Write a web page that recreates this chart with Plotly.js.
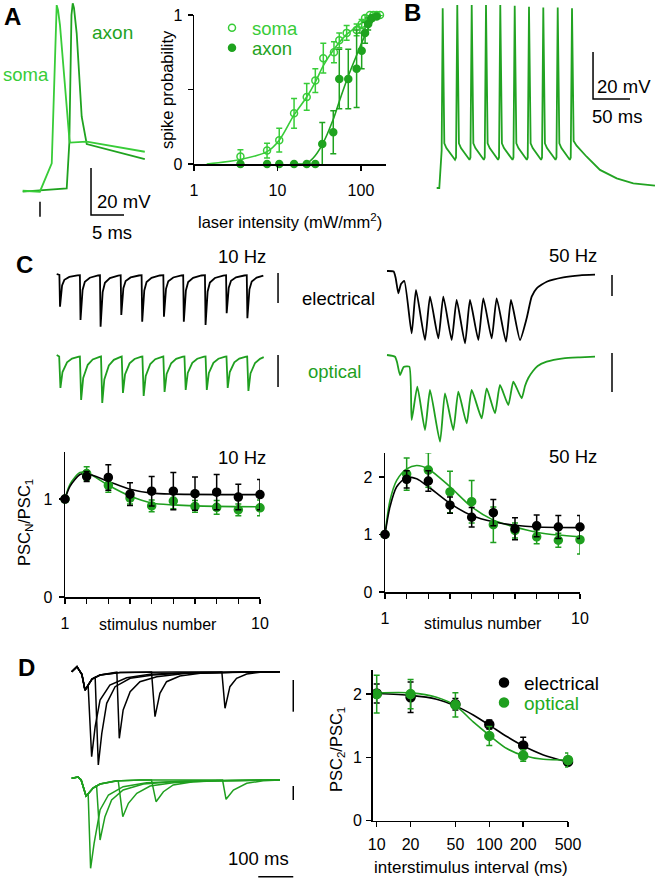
<!DOCTYPE html>
<html>
<head>
<meta charset="utf-8">
<script src="https://cdn.plot.ly/plotly-3.0.1.min.js"></script>
<style>html,body{margin:0;padding:0;background:#fff}#chart{width:656px;height:880px}</style>
</head>
<body>
<div id="chart"></div>
<script>
// ---------------- DATA ----------------
// Panel A: action potentials (ms, mV)
const aSomaT = [0, 2.6, 4.4, 5.0, 5.15, 5.35, 5.65, 7.06, 7.17, 9.7, 18.5];
const aSomaV = [-69.9, -70.3, -58.2, 4.9, 9.1, 7.0, 0.6, -47.6, -49.4, -49.0, -53.3];
const aAxonT = [0, 6.67, 7.06, 7.39, 7.58, 7.77, 8.18, 8.94, 9.7, 18.5];
const aAxonV = [-70.3, -68.9, -49.7, 4.9, 9.9, 7.9, -2.9, -38.4, -50.0, -56.4];

// Panel A: spike probability vs laser intensity
const somaI = [3.6, 7.5, 10.5, 15.8, 22.4, 28.4, 35.4, 47.5, 55, 67.4, 88.7, 102, 112, 128, 141, 154, 169];
const somaP = [0.05, 0.09, 0.16, 0.34, 0.45, 0.56, 0.71, 0.75, 0.83, 0.88, 0.90, 0.94, 0.98, 1.0, 1.0, 1.0, 1.0];
const somaErr = [0.045, 0.05, 0.08, 0.1, 0.09, 0.08, 0.1, 0.07, 0.05, 0.05, 0.04, 0.03, 0.02, 0.02, 0, 0, 0];
const axonI = [3.6, 7.5, 10.5, 15.8, 22.4, 28.4, 34.4, 46.6, 55, 70.5, 88.7, 102, 112, 122, 134, 154];
const axonP = [0, 0, 0, 0, 0, 0, 0.134, 0.213, 0.57, 0.57, 0.64, 0.76, 0.88, 0.94, 0.98, 0.99];
const axonErr = [0, 0, 0, 0, 0, 0, 0.145, 0.145, 0.2, 0.2, 0.26, 0.12, 0.07, 0.04, 0.02, 0.01];
const somaFitI = [1.42, 3.6, 7.5, 10.5, 15.8, 22.4, 28.4, 35.4, 47.5, 67.4, 88.7, 117, 177];
const somaFitP = [0, 0.03, 0.083, 0.16, 0.33, 0.45, 0.55, 0.66, 0.77, 0.87, 0.92, 0.97, 1.0];
const axonFitI = [14.1, 22.4, 26.8, 34.4, 46.6, 55, 70.5, 88.7, 107, 128, 154, 177];
const axonFitP = [0, 0.005, 0.04, 0.13, 0.30, 0.42, 0.59, 0.73, 0.84, 0.93, 0.98, 1.0];
const aTicks = [1, 10, 100];

// Panel B: spike train (ms, mV)
const bT = [0, 3.5, 6.7, 8.1, 10.3, 13.1, 24.7, 26.1,
  27.8, 30, 32.8, 44.3, 45.6,
  47.3, 49.5, 52.3, 63.6, 64.9,
  66.6, 68.8, 71.6, 82.9, 84.2,
  85.9, 88.1, 90.9, 102.4, 103.7,
  105.4, 107.6, 110.4, 121.7, 123,
  124.7, 126.9, 129.7, 141, 142.3,
  144, 146.2, 149, 160.5, 161.8,
  163.5, 165.7, 168.5, 179.8, 181.1,
  182.8, 185, 189, 202.6, 220.6, 243.2, 265.6, 294.9];
const bV = [-70, -70, -54, 6.5, -51, -53, -58, -57,
  7.9, -51, -53, -58, -57,
  7.9, -51, -53, -58, -57,
  7.9, -51, -53, -58, -57,
  7.9, -51, -53, -58, -57,
  7.5, -51, -53, -58, -57,
  7.1, -51, -53, -58, -57,
  6.8, -51, -53, -58, -57,
  6.8, -51, -53, -58, -57,
  6.5, -50, -52, -56.7, -62.3, -65.9, -68, -69];

// Panel C: PSC trains (ms, pA)
const c10eT = [0, 13, 16, 26, 37, 61, 100, 112, 115, 125, 136, 160, 200, 209, 212, 222, 233, 257, 297, 309, 312, 322, 333, 357, 397, 410, 413, 423, 434, 458, 498, 515, 518, 528, 539, 563, 603, 611, 614, 624, 635, 659, 699, 716, 719, 729, 740, 764, 804, 818, 821, 831, 842, 866, 906, 918, 921, 931, 942, 966, 998];
const c10eA = [10, 0, -317, -105, -48, -19, -4, -2, -450, -149, -68, -27, -5, -2, -517, -171, -78, -31, -6, -2, -400, -132, -60, -24, -5, -2, -467, -154, -70, -28, -5, -2, -417, -138, -63, -25, -5, -2, -467, -154, -70, -28, -5, -2, -500, -165, -75, -30, -6, -2, -383, -126, -57, -23, -5, -2, -433, -143, -65, -26, -6];
const c10oT = [0, 12, 18, 28, 50, 74, 107, 112, 118, 128, 150, 174, 207, 214, 220, 230, 252, 276, 309, 314, 320, 330, 352, 376, 409, 414, 420, 430, 452, 476, 509, 515, 521, 531, 553, 577, 610, 617, 623, 633, 655, 679, 712, 719, 725, 735, 757, 781, 814, 820, 826, 836, 858, 882, 915, 920, 926, 936, 958, 982, 1000];
const c10oA = [10, -5, -320, -160, -64, -26, -6, -5, -440, -220, -88, -35, -9, -5, -470, -235, -94, -38, -9, -5, -370, -185, -74, -30, -7, -5, -400, -200, -80, -32, -8, -5, -360, -180, -72, -29, -7, -5, -340, -170, -68, -27, -7, -5, -340, -170, -68, -27, -7, -5, -320, -160, -64, -26, -6, -5, -350, -175, -70, -28, -12];
const c50eT = [0, 10, 13, 17, 21, 26, 37, 43.5, 57, 64.5, 77, 84.5, 97, 104.5, 117, 124.5, 137, 144.5, 157, 164.5, 178.5, 186, 199.5, 209.5, 217, 224.5, 239.5, 264.5, 289.5, 312];
const c50eA = [10, 5, -60, -213, -120, -90, -613, -180, -680, -247, -663, -247, -680, -280, -713, -280, -680, -263, -663, -263, -697, -280, -680, -463, -247, -163, -97, -53, -33, -27];
const c50oT = [0, 12, 15, 19.5, 25, 33.5, 37, 45.5, 57, 64.5, 79.5, 87, 99.5, 107, 119.5, 127, 142, 149.5, 162, 169.5, 182, 189.5, 202, 207, 212, 219, 226, 239.5, 264.5, 289.5, 312];
const c50oA = [10, -7, -60, -190, -110, -107, -640, -307, -740, -340, -857, -373, -740, -357, -673, -340, -623, -323, -573, -290, -490, -257, -423, -300, -220, -150, -100, -57, -23, -13, -7];

// Panel C: PSC_N / PSC_1
const stimN = [1, 2, 3, 4, 5, 6, 7, 8, 9, 10];
const stimLabels = [1, 10];
const c10e = [1, 1.23, 1.22, 1.05, 1.08, 1.08, 1.055, 1.07, 1.02, 1.045];
const c10eErr = [0, 0.05, 0.13, 0.115, 0.15, 0.19, 0.17, 0.18, 0.13, 0.155];
const c10o = [1, 1.26, 1.14, 1.01, 0.93, 0.98, 0.925, 0.915, 0.89, 0.91];
const c10oErr = [0, 0.07, 0.07, 0.06, 0.06, 0.08, 0.06, 0.07, 0.06, 0.08];
const c10eFitX = [1, 1.23, 1.69, 2, 3, 4, 5, 6, 10];
const c10eFitY = [1, 1.13, 1.25, 1.26, 1.18, 1.10, 1.06, 1.05, 1.045];
const c10oFitX = [1, 1.23, 1.69, 2, 3, 4, 5, 6, 7, 10];
const c10oFitY = [1, 1.15, 1.27, 1.27, 1.14, 1.03, 0.96, 0.94, 0.93, 0.92];
const c50e = [1, 1.96, 1.93, 1.51, 1.30, 1.38, 1.10, 1.15, 1.13, 1.13];
const c50eErr = [0, 0.15, 0.18, 0.14, 0.17, 0.23, 0.19, 0.19, 0.2, 0.2];
const c50o = [1, 2.05, 2.12, 1.74, 1.57, 1.17, 1.07, 0.96, 0.9, 0.91];
const c50oErr = [0, 0.28, 0.3, 0.36, 0.37, 0.31, 0.13, 0.12, 0.12, 0.25];
const c50eFitX = [1, 1.23, 1.54, 2, 2.46, 3, 4, 5, 6, 7, 8, 10];
const c50eFitY = [1, 1.48, 1.83, 1.99, 1.97, 1.83, 1.54, 1.33, 1.22, 1.16, 1.13, 1.12];
const c50oFitX = [1, 1.23, 1.54, 2, 2.46, 3, 4, 5, 6, 7, 8, 9, 10];
const c50oFitY = [1, 1.59, 1.94, 2.14, 2.2, 2.14, 1.83, 1.48, 1.25, 1.13, 1.04, 0.99, 0.96];

// Panel D: paired-pulse sweeps (ms, pA)
const dE1T = [0, 15, 24, 29, 38, 47, 57, 67, 81, 109, 157, 224, 329, 595];
const dE1A = [0, 50, 0, -25, -185, -140, -850, -550, -283, -133, -60, -26, -10, 0];
const dE2T = [0, 15, 24, 29, 38, 47, 58, 67, 76, 86, 100, 124, 167, 233, 329, 595];
const dE2A = [0, 50, 0, -25, -185, -133, -73, -55, -933, -616, -316, -150, -66, -33, -10, 0];
const dE3T = [0, 15, 24, 29, 38, 47, 58, 81, 129, 136, 147, 167, 195, 243, 329, 595];
const dE3A = [0, 50, 0, -25, -185, -133, -73, -33, -5, -666, -383, -200, -100, -50, -16, 0];
const dE4T = [0, 15, 24, 29, 38, 47, 58, 81, 138, 228, 238, 252, 271, 309, 367, 461, 595];
const dE4A = [0, 50, 0, -25, -185, -133, -73, -33, -8, -3, -450, -216, -100, -43, -16, -6, 0];
const dE5T = [0, 15, 24, 29, 38, 47, 58, 81, 138, 300, 429, 438, 452, 471, 500, 538, 595];
const dE5A = [0, 50, 0, -25, -185, -133, -73, -33, -8, -2, -2, -366, -150, -66, -23, -6, 0];
const dO1T = [0, 18, 27, 32, 41, 47, 54, 64, 81, 105, 147, 214, 329, 595];
const dO1A = [17, 30, 0, -50, -160, -135, -883, -633, -300, -150, -67, -27, -10, 0];
const dO2T = [0, 18, 27, 32, 41, 49, 61, 71, 81, 95, 114, 147, 205, 290, 405, 595];
const dO2A = [17, 30, 0, -50, -160, -130, -80, -55, -600, -367, -200, -100, -40, -17, -7, 0];
const dO3T = [0, 18, 27, 32, 41, 49, 61, 81, 124, 133, 146, 162, 186, 224, 290, 405, 595];
const dO3A = [17, 30, 0, -50, -160, -130, -80, -40, -10, -8, -367, -233, -133, -60, -27, -7, 0];
const dO4T = [0, 18, 27, 32, 41, 49, 61, 81, 124, 195, 228, 241, 262, 290, 347, 424, 595];
const dO4A = [17, 30, 0, -50, -160, -130, -80, -40, -10, 0, 0, -217, -117, -50, -17, -7, 0];
const dO5T = [0, 18, 27, 32, 41, 49, 61, 81, 124, 195, 431, 441, 462, 500, 547, 595];
const dO5A = [17, 30, 0, -50, -160, -130, -80, -40, -10, 0, 0, -193, -100, -33, -7, 0];

// Panel D: PSC_2 / PSC_1 vs interval
const dX = [10, 20, 50, 100, 200, 500];
const dE = [2.01, 1.95, 1.84, 1.52, 1.19, 0.93];
const dEErr = [0.15, 0.24, 0.09, 0.07, 0.13, 0.05];
const dO = [2.0, 2.0, 1.83, 1.34, 1.03, 0.96];
const dOErr = [0.3, 0.23, 0.19, 0.15, 0.09, 0.11];
const dFitX = [10, 20.2, 34, 50.7, 72, 100, 143, 201, 302, 493];
const dEFitY = [2.01, 1.98, 1.92, 1.81, 1.67, 1.51, 1.33, 1.18, 1.04, 0.93];
const dOFitY = [2.02, 2.02, 1.95, 1.81, 1.56, 1.35, 1.14, 1.03, 0.97, 0.96];

// ---------------- STYLE / LAYOUT ----------------
const W = 656, H = 880;
const FONT = 'Liberation Sans, Arial, Helvetica, sans-serif';
const BLACK = '#000000';
const GREEN = '#1f9f1f';
const SOMA = '#38cc38';
const AXON = '#1fa31f';
const BGREEN = '#22a322';
const TW = 1.8; // trace line width

function dx(a, b) { return [a / W, b / W]; }
function dy(top, bot) { return [1 - bot / H, 1 - top / H]; }
function xr(pL, pR, ref, upp) { return [(pL - ref) * upp, (pR - ref) * upp]; }
function yr(pT, pB, ref, val, upp) { return [val - (pB - ref) * upp, val - (pT - ref) * upp]; }

function hid(domain, range, anchor) {
  return { domain: domain, range: range, visible: false, fixedrange: true, anchor: anchor };
}
function vis(domain, range, anchor, extra) {
  return Object.assign({
    domain: domain, range: range, anchor: anchor, showline: true, linecolor: BLACK, linewidth: 1.5,
    ticks: 'outside', ticklen: 5, tickwidth: 1.5, tickcolor: BLACK, showgrid: false, zeroline: false,
    tickfont: { family: FONT, size: 16, color: BLACK }, fixedrange: true
  }, extra || {});
}
function minorTicks(dtick, tick0) {
  return { dtick: dtick, tick0: tick0, ticks: 'outside', ticklen: 5, tickwidth: 1.5, tickcolor: BLACK, showgrid: false };
}

function ln(x, y, xa, ya, color, width, shape, smoothing) {
  const o = { type: 'scatter', mode: 'lines', x: x, y: y, xaxis: xa, yaxis: ya,
    line: { color: color, width: width, shape: shape || 'linear' }, showlegend: false, hoverinfo: 'skip', cliponaxis: false };
  if (shape === 'spline') o.line.smoothing = smoothing || 0.8;
  return o;
}
function pts(x, y, err, xa, ya, color, size, symbol, extra) {
  return Object.assign({ type: 'scatter', mode: 'markers', x: x, y: y, xaxis: xa, yaxis: ya,
    marker: { color: color, size: size, symbol: symbol || 'circle', line: { color: color, width: 1.5 } },
    error_y: { type: 'data', array: err, color: color, thickness: 1.5, width: 3 },
    showlegend: false, hoverinfo: 'skip', cliponaxis: false }, extra || {});
}

const traces = [
  // A traces
  ln(aAxonT, aAxonV, 'x', 'y', AXON, TW),
  ln(aSomaT, aSomaV, 'x', 'y', SOMA, TW),
  // A plot
  ln(somaFitI, somaFitP, 'x2', 'y2', SOMA, 1.6, 'spline'),
  ln(axonFitI, axonFitP, 'x2', 'y2', AXON, 1.6, 'spline'),
  pts(somaI, somaP, somaErr, 'x2', 'y2', SOMA, 7, 'circle-open', { name: 'soma', showlegend: true, legend: 'legend' }),
  pts(axonI, axonP, axonErr, 'x2', 'y2', AXON, 7, 'circle', { name: 'axon', showlegend: true, legend: 'legend2' }),
  // B
  ln(bT, bV, 'x3', 'y3', BGREEN, TW),
  // C traces
  ln(c10eT, c10eA, 'x4', 'y4', BLACK, TW),
  ln(c10oT, c10oA, 'x5', 'y5', GREEN, TW),
  ln(c50eT, c50eA, 'x6', 'y6', BLACK, TW, 'spline', 0.5),
  ln(c50oT, c50oA, 'x7', 'y7', GREEN, TW, 'spline', 0.5),
  // C plots
  ln(c10oFitX, c10oFitY, 'x8', 'y8', GREEN, 1.6, 'spline'),
  ln(c10eFitX, c10eFitY, 'x8', 'y8', BLACK, 1.6, 'spline'),
  pts(stimN, c10o, c10oErr, 'x8', 'y8', GREEN, 8),
  pts(stimN, c10e, c10eErr, 'x8', 'y8', BLACK, 8),
  ln(c50oFitX, c50oFitY, 'x9', 'y9', GREEN, 1.6, 'spline'),
  ln(c50eFitX, c50eFitY, 'x9', 'y9', BLACK, 1.6, 'spline'),
  pts(stimN, c50o, c50oErr, 'x9', 'y9', GREEN, 8),
  pts(stimN, c50e, c50eErr, 'x9', 'y9', BLACK, 8),
  // D traces
  ln(dE5T, dE5A, 'x10', 'y10', BLACK, 1.5),
  ln(dE4T, dE4A, 'x10', 'y10', BLACK, 1.5),
  ln(dE3T, dE3A, 'x10', 'y10', BLACK, 1.5),
  ln(dE2T, dE2A, 'x10', 'y10', BLACK, 1.5),
  ln(dE1T, dE1A, 'x10', 'y10', BLACK, 1.5),
  ln(dO5T, dO5A, 'x11', 'y11', GREEN, 1.5),
  ln(dO4T, dO4A, 'x11', 'y11', GREEN, 1.5),
  ln(dO3T, dO3A, 'x11', 'y11', GREEN, 1.5),
  ln(dO2T, dO2A, 'x11', 'y11', GREEN, 1.5),
  ln(dO1T, dO1A, 'x11', 'y11', GREEN, 1.5),
  // D plot
  ln(dFitX, dEFitY, 'x12', 'y12', BLACK, 1.6, 'spline'),
  ln(dFitX, dOFitY, 'x12', 'y12', GREEN, 1.6, 'spline'),
  pts(dX, dE, dEErr, 'x12', 'y12', BLACK, 9, 'circle', { name: 'electrical', showlegend: true, legend: 'legend3' }),
  pts(dX, dO, dOErr, 'x12', 'y12', GREEN, 9, 'circle', { name: 'optical', showlegend: true, legend: 'legend4' })
];

// axis mappings (pixel boxes -> unit ranges)
const A_X = [15, 155], A_Y = [0, 225];
const B_X = [425, 656], B_Y = [0, 195];
const C10_X = [50, 285], C10E_Y = [262, 335], C10O_Y = [340, 412];
const C50_X = [380, 620], C50E_Y = [262, 348], C50O_Y = [345, 450];
const D_X = [60, 300], DE_Y = [650, 775], DO_Y = [762, 880];

const layout = {
  width: W, height: H, margin: { l: 0, r: 0, t: 0, b: 0 },
  paper_bgcolor: '#ffffff', plot_bgcolor: 'rgba(0,0,0,0)',
  font: { family: FONT, color: BLACK },
  xaxis: hid(dx(...A_X), xr(A_X[0], A_X[1], 22.7, 1 / 6.6), 'y'),
  yaxis: hid(dy(...A_Y), yr(A_Y[0], A_Y[1], 191, -70, 1 / 2.35), 'x'),
  xaxis2: vis(dx(194, 386), [0, 2.3], 'y2', { type: 'log', tickvals: aTicks, ticktext: aTicks.map(String), ticklabelstandoff: 6 }),
  yaxis2: vis(dy(15, 164), [0, 1], 'x2', { tickvals: [0, 1], ticklabelstandoff: 2, minor: minorTicks(0.5, 0) }),
  xaxis3: hid(dx(...B_X), xr(B_X[0], B_X[1], 436.7, 1.351), 'y3'),
  yaxis3: hid(dy(...B_Y), yr(B_Y[0], B_Y[1], 188, -70, 1 / 2.35), 'x3'),
  xaxis4: hid(dx(...C10_X), xr(C10_X[0], C10_X[1], 56.7, 4.83), 'y4'),
  yaxis4: hid(dy(...C10E_Y), yr(C10E_Y[0], C10E_Y[1], 275, 0, 10), 'x4'),
  xaxis5: hid(dx(...C10_X), xr(C10_X[0], C10_X[1], 56.7, 4.83), 'y5'),
  yaxis5: hid(dy(...C10O_Y), yr(C10O_Y[0], C10O_Y[1], 356, 0, 10), 'x5'),
  xaxis6: hid(dx(...C50_X), xr(C50_X[0], C50_X[1], 387, 1.5), 'y6'),
  yaxis6: hid(dy(...C50E_Y), yr(C50E_Y[0], C50E_Y[1], 272, 0, 10), 'x6'),
  xaxis7: hid(dx(...C50_X), xr(C50_X[0], C50_X[1], 387, 1.5), 'y7'),
  yaxis7: hid(dy(...C50O_Y), yr(C50O_Y[0], C50O_Y[1], 356, 0, 10), 'x7'),
  xaxis8: vis(dx(65, 260), [1, 10], 'y8', { tickvals: stimLabels, ticklabelstandoff: 6, minor: minorTicks(1, 1) }),
  yaxis8: vis(dy(452, 597), [0, 1.48], 'x8', { tickvals: [0, 1], ticklabelstandoff: 3 }),
  xaxis9: vis(dx(385, 580), [1, 10], 'y9', { tickvals: stimLabels, ticklabelstandoff: 6, minor: minorTicks(1, 1) }),
  yaxis9: vis(dy(453, 592), [0, 2.417], 'x9', { tickvals: [0, 1, 2], ticklabelstandoff: 3 }),
  xaxis10: hid(dx(...D_X), xr(D_X[0], D_X[1], 71.7, 2.857), 'y10'),
  yaxis10: hid(dy(...DE_Y), yr(DE_Y[0], DE_Y[1], 671.7, 0, 10), 'x10'),
  xaxis11: hid(dx(...D_X), xr(D_X[0], D_X[1], 71.7, 2.857), 'y11'),
  yaxis11: hid(dy(...DO_Y), yr(DO_Y[0], DO_Y[1], 780, 0, 10), 'x11'),
  xaxis12: vis(dx(372.7, 568.3), [0.9645, 2.7016], 'y12', { type: 'log', tickvals: dX, ticktext: dX.map(String), ticklabelstandoff: 4 }),
  yaxis12: vis(dy(670, 820.7), [0, 2.381], 'x12', { tickvals: [0, 1, 2], ticklabelstandoff: 1 }),
  showlegend: true,
  legend: { x: 212 / W, y: 1 - 28.3 / H, xanchor: 'left', yanchor: 'middle', bgcolor: 'rgba(0,0,0,0)', borderwidth: 0, font: { family: FONT, size: 18.5, color: SOMA } },
  legend2: { x: 212 / W, y: 1 - 48.3 / H, xanchor: 'left', yanchor: 'middle', bgcolor: 'rgba(0,0,0,0)', borderwidth: 0, font: { family: FONT, size: 18.5, color: AXON } },
  legend3: { x: 484 / W, y: 1 - 682.7 / H, xanchor: 'left', yanchor: 'middle', bgcolor: 'rgba(0,0,0,0)', borderwidth: 0, font: { family: FONT, size: 19, color: BLACK } },
  legend4: { x: 484 / W, y: 1 - 702.7 / H, xanchor: 'left', yanchor: 'middle', bgcolor: 'rgba(0,0,0,0)', borderwidth: 0, font: { family: FONT, size: 19, color: '#22aa22' } },
  shapes: [],
  annotations: []
};

// scale bars and stimulus mark (in each panel's own units)
function bar(path, xref, yref, color) {
  return { type: 'path', path: path, xref: xref, yref: yref, line: { color: color || BLACK, width: 1.5 } };
}
layout.shapes.push(
  bar('M10.35,-60.2 L10.35,-80.2 L15.35,-80.2', 'x', 'y'),          // 20 mV / 5 ms
  bar('M2.62,-74.6 L2.62,-81.0', 'x', 'y'),                           // stimulus mark
  bar('M211.2,-12.1 L211.2,-32.1 L261.2,-32.1', 'x3', 'y3'),          // 20 mV / 50 ms
  bar('M1069,20 L1069,-280', 'x4', 'y4'),
  bar('M1069,10 L1069,-310', 'x5', 'y5'),
  bar('M337.5,-30 L337.5,-240', 'x6', 'y6'),
  bar('M337.5,30 L337.5,-360', 'x7', 'y7'),
  bar('M633,-83 L633,-400', 'x10', 'y10'),
  bar('M633,-60 L633,-200', 'x11', 'y11'),
  bar('M533,-967 L633,-967', 'x11', 'y11')                            // 100 ms
);

function ann(text, x, y, size, color, opts) {
  return Object.assign({ text: text, x: x / W, y: 1 - y / H, xref: 'paper', yref: 'paper', showarrow: false,
    xanchor: 'center', yanchor: 'middle', font: { family: FONT, size: size, color: color || BLACK }, borderpad: 0 }, opts || {});
}
layout.annotations.push(
  ann('<b>A</b>', 12.5, 16, 24),
  ann('<b>B</b>', 413, 12, 24),
  ann('<b>C</b>', 24, 264, 24),
  ann('<b>D</b>', 26.7, 667, 24),
  ann('soma', 25.8, 75, 18.5, SOMA),
  ann('axon', 112.5, 33, 19, AXON),
  ann('20 mV', 96, 202, 18.5, BLACK, { xanchor: 'left' }),
  ann('5 ms', 91, 232, 18.5, BLACK, { xanchor: 'left' }),
  ann('spike probability', 167, 90, 16.5, BLACK, { textangle: -90 }),
  ann('laser intensity (mW/mm<sup>2</sup>)', 290, 221, 16.5),
  ann('20 mV', 596, 86, 18.5, BLACK, { xanchor: 'left' }),
  ann('50 ms', 591, 116, 18.5, BLACK, { xanchor: 'left' }),
  ann('10 Hz', 241.7, 257, 18.5),
  ann('50 Hz', 572.5, 255, 18.5),
  ann('electrical', 301, 298, 18.5, BLACK, { xanchor: 'left' }),
  ann('optical', 307, 371, 18.5, GREEN, { xanchor: 'left' }),
  ann('10 Hz', 241.7, 457, 18.5),
  ann('50 Hz', 572.5, 456, 18.5),
  ann('PSC<sub>N</sub>/PSC<sub>1</sub>', 25, 523, 16.5, BLACK, { textangle: -90 }),
  ann('stimulus number', 157.5, 624, 16),
  ann('stimulus number', 483.3, 623, 16),
  ann('100 ms', 258.5, 858, 18.5),
  ann('PSC<sub>2</sub>/PSC<sub>1</sub>', 337, 750, 16.5, BLACK, { textangle: -90 }),
  ann('interstimulus interval (ms)', 471, 867, 17)
);

Plotly.newPlot('chart', traces, layout, { staticPlot: true, displayModeBar: false });
</script>
</body>
</html>
